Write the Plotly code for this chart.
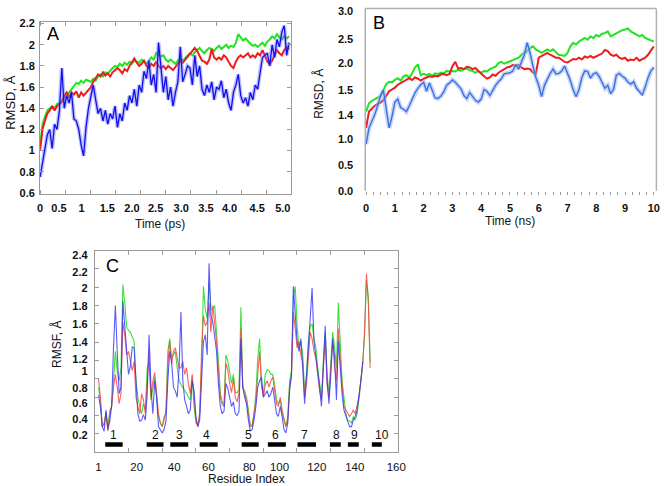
import plotly.graph_objects as go

W, H = 669, 486

# ---------------- Panel A : RMSD vs time (ps) ----------------
a_time = [round(0.05 * i, 2) for i in range(104)]
a_green = [1.05,1.25,1.32,1.38,1.40,1.42,1.40,1.44,1.45,1.47,
           1.50,1.52,1.55,1.58,1.62,1.64,1.63,1.66,1.64,1.67,
           1.66,1.65,1.68,1.66,1.70,1.72,1.70,1.74,1.73,1.76,
           1.78,1.80,1.79,1.82,1.80,1.83,1.81,1.84,1.82,1.85,
           1.84,1.83,1.86,1.84,1.82,1.85,1.88,1.86,1.92,1.90,
           1.89,1.90,1.86,1.84,1.86,1.84,1.82,1.85,1.87,1.85,
           1.88,1.90,1.92,1.90,1.93,1.95,1.97,1.94,1.92,1.95,
           1.97,1.96,1.94,1.97,1.99,1.96,1.98,2.00,1.97,1.99,
           1.98,2.02,2.10,2.07,2.04,2.06,2.03,2.01,1.99,2.00,
           1.98,2.00,2.02,1.99,2.03,2.05,2.08,2.06,2.10,2.07,
           2.05,2.08,2.06,2.08]
a_red = [1.00,1.20,1.28,1.35,1.38,1.42,1.38,1.42,1.44,1.46,
         1.52,1.55,1.50,1.55,1.53,1.56,1.50,1.55,1.52,1.55,
         1.58,1.60,1.65,1.68,1.72,1.70,1.74,1.71,1.73,1.70,
         1.74,1.76,1.78,1.76,1.73,1.77,1.75,1.80,1.84,1.87,
         1.83,1.80,1.82,1.85,1.80,1.78,1.82,1.80,1.84,1.80,
         1.78,1.80,1.77,1.80,1.78,1.76,1.79,1.82,1.85,1.83,
         1.86,1.88,1.92,1.95,1.97,1.94,1.90,1.85,1.84,1.82,
         1.86,1.96,1.88,1.86,1.88,1.86,1.90,1.88,1.84,1.80,
         1.78,1.84,1.88,1.90,1.88,1.90,1.92,1.88,1.90,1.88,
         1.92,1.90,1.95,1.90,1.84,1.82,1.85,1.90,1.95,1.92,
         1.90,1.95,1.98,1.96]
a_blue = [0.75,0.88,0.98,1.15,1.20,1.02,1.25,1.20,1.38,1.78,
          1.40,1.52,1.45,1.55,1.30,1.28,1.20,1.05,0.95,1.22,
          1.40,1.52,1.62,1.48,1.35,1.40,1.28,1.38,1.25,1.35,
          1.30,1.42,1.22,1.35,1.28,1.45,1.38,1.52,1.45,1.58,
          1.42,1.62,1.55,1.75,1.68,1.85,1.62,1.72,1.55,2.02,
          1.80,1.55,1.70,1.48,1.60,1.42,1.55,1.65,1.98,1.65,
          1.72,1.80,1.78,1.62,1.90,1.70,1.80,1.58,1.52,1.62,
          1.55,1.65,1.48,1.60,1.58,1.66,1.50,1.58,1.45,1.38,
          1.55,1.62,1.72,1.52,1.45,1.50,1.42,1.55,1.48,1.62,
          1.58,1.75,1.88,1.90,1.92,1.80,2.00,1.88,2.05,1.98,
          2.12,2.18,1.90,2.02]
a_xtick_pos = [0, 0.39, 0.86, 1.39, 1.90, 2.39, 2.92, 3.43, 3.92, 4.49, 5.02]
a_xtick_txt = ["0", "0.5", "1", "1.5", "2.0", "2.5", "3.0", "3.5", "4.0", "4.5", "5.0"]
a_ytick_pos = [0.6, 0.8, 1.0, 1.2, 1.4, 1.6, 1.8, 2.0, 2.2]
a_ytick_txt = ["0.6", "0.8", "1", "1.2", "1.4", "1.6", "1.8", "2", "2.2"]

# ---------------- Panel B : RMSD vs time (ns) ----------------
b_time = [round(0.1 * i, 1) for i in range(101)]
b_green = [1.32,1.46,1.50,1.53,1.55,1.58,1.68,1.78,1.82,1.81,
           1.85,1.88,1.84,1.91,1.93,1.89,1.96,2.06,2.11,1.93,
           1.95,1.93,1.95,1.92,1.96,1.95,1.97,1.96,2.00,1.99,
           2.00,1.99,2.02,2.00,2.03,2.04,2.01,2.00,1.97,2.00,
           1.97,2.00,1.99,2.03,2.05,2.07,2.13,2.15,2.12,2.14,
           2.15,2.17,2.19,2.22,2.27,2.30,2.33,2.38,2.41,2.36,
           2.33,2.30,2.33,2.36,2.33,2.36,2.31,2.27,2.26,2.25,
           2.30,2.41,2.47,2.44,2.49,2.52,2.55,2.52,2.575,2.55,
           2.60,2.575,2.62,2.63,2.66,2.575,2.60,2.63,2.66,2.68,
           2.69,2.71,2.66,2.63,2.60,2.575,2.60,2.55,2.53,2.51,
           2.49]
b_red = [1.05,1.32,1.37,1.42,1.45,1.47,1.51,1.58,1.66,1.69,
         1.72,1.77,1.80,1.82,1.85,1.88,1.85,1.89,1.87,1.84,
         1.87,1.89,1.91,1.90,1.92,1.91,1.94,1.95,1.93,1.95,
         2.08,2.15,2.04,2.05,2.03,2.07,2.06,2.03,2.05,2.00,
         1.95,1.91,1.87,1.89,1.94,1.92,1.97,2.00,2.03,2.06,
         2.07,2.10,2.08,2.10,2.06,2.03,2.04,2.03,1.97,1.95,
         2.22,2.25,2.27,2.30,2.27,2.25,2.22,2.22,2.19,2.15,
         2.14,2.17,2.20,2.19,2.22,2.19,2.24,2.22,2.25,2.22,
         2.24,2.26,2.29,2.35,2.33,2.27,2.25,2.27,2.22,2.20,
         2.22,2.17,2.19,2.18,2.22,2.17,2.19,2.22,2.27,2.35,
         2.41]
b_blue = [0.78,1.05,1.16,1.27,1.42,1.58,1.68,1.32,1.05,1.24,
          1.48,1.53,1.39,1.36,1.32,1.42,1.53,1.64,1.71,1.77,
          1.81,1.66,1.80,1.69,1.55,1.54,1.58,1.65,1.76,1.80,
          1.85,1.81,1.75,1.70,1.59,1.54,1.64,1.57,1.51,1.48,
          1.53,1.69,1.66,1.59,1.68,1.76,1.82,1.87,1.95,1.96,
          1.97,2.00,2.11,2.03,2.14,2.27,2.47,2.30,2.08,1.89,
          1.76,1.57,1.76,1.87,1.96,2.03,1.95,1.96,2.00,2.08,
          1.97,1.84,1.68,1.57,1.69,1.89,2.00,1.99,1.88,1.95,
          1.97,1.91,1.81,1.71,1.76,1.62,1.69,1.93,1.96,1.91,
          1.88,1.81,1.78,1.82,1.71,1.66,1.60,1.73,1.89,2.00,
          2.06]
b_ytick_pos = [0.0, 0.42, 0.857, 1.266, 1.675, 2.126, 2.535, 3.0]
b_ytick_txt = ["0.0", "0.5", "1.0", "1.4", "1.5", "2.0", "2.5", "3.0"]
b_xtick_pos = [0, 1, 2, 3, 4, 5, 6, 7, 8, 9, 10]

# ---------------- Panel C : RMSF per residue ----------------
c_res_rg = list(range(1, 147))
c_res_b = list(range(1, 143))
c_blue = [0.82,0.70,0.48,0.43,0.66,0.45,0.54,0.70,1.34,1.80,
          1.30,0.84,0.91,1.85,1.58,1.30,1.05,1.14,1.35,1.34,
          0.98,0.62,0.54,0.55,0.61,0.55,0.84,1.48,0.91,0.62,
          0.98,0.80,0.48,0.45,0.41,0.45,0.54,0.98,1.30,1.19,
          0.91,0.87,0.80,1.12,1.73,0.98,0.77,0.70,0.62,0.66,
          0.98,0.87,0.59,0.48,0.55,0.98,1.41,1.48,1.26,2.26,
          1.69,1.62,1.44,1.30,0.95,0.70,0.62,0.65,0.95,0.90,
          0.80,0.70,0.75,0.62,0.60,0.65,1.44,0.91,0.80,0.73,
          0.55,0.43,0.45,0.55,0.70,0.91,0.98,1.02,0.80,0.84,
          0.87,0.80,0.84,0.91,0.77,0.62,0.59,0.70,0.59,0.45,
          0.41,0.52,0.87,1.05,2.01,1.66,1.41,1.30,1.44,1.12,
          0.73,1.02,1.34,1.73,1.99,1.41,1.26,1.09,0.91,0.70,
          1.12,1.58,0.98,0.73,1.05,1.44,1.23,0.77,1.41,1.12,
          0.84,0.66,0.59,0.54,0.48,0.48,0.55,0.59,0.66,0.80,
          0.98,1.19]
c_red = [1.00,0.80,0.48,0.50,0.64,0.43,0.61,0.70,0.91,1.05,
         0.91,0.73,0.84,1.62,1.48,1.26,1.30,1.19,1.09,1.19,
         0.80,0.70,0.62,0.84,0.77,0.62,0.94,1.30,0.80,0.98,
         1.07,0.84,0.62,0.52,0.48,0.55,0.66,1.16,1.41,1.16,
         1.30,1.34,1.23,1.12,1.12,1.19,1.05,1.12,0.94,0.84,
         1.05,0.80,0.55,0.48,0.62,1.30,1.69,1.58,1.62,1.83,
         1.51,1.80,1.62,1.41,1.10,0.80,0.72,0.70,1.17,1.10,
         0.95,0.85,1.00,0.80,0.75,0.85,1.55,0.91,0.84,0.77,
         0.62,0.50,0.48,0.62,0.77,1.05,1.30,0.94,0.80,0.94,
         0.98,0.91,0.98,1.02,0.87,0.73,0.70,0.80,0.66,0.55,
         0.48,0.55,0.91,1.02,1.73,1.55,1.34,1.41,1.26,1.19,
         0.80,0.94,1.26,1.51,1.44,1.30,1.23,1.05,0.87,0.77,
         1.05,1.44,0.94,0.80,1.12,1.41,1.12,0.98,1.55,1.19,
         0.94,0.70,0.66,0.62,0.59,0.62,0.66,0.62,0.73,0.80,
         0.98,1.16,1.51,2.15,1.83,1.12]
c_green = [0.91,0.77,0.48,0.52,0.62,0.46,0.66,0.70,0.98,1.30,
           1.09,0.98,1.12,2.03,1.83,1.57,1.53,1.51,1.46,1.41,
           0.98,0.80,0.70,0.62,0.73,0.66,1.12,1.19,0.77,0.91,
           1.02,0.80,0.59,0.52,0.48,0.59,0.62,1.30,1.44,1.23,
           1.26,1.30,1.12,0.98,0.94,0.91,0.87,0.84,0.80,0.77,
           1.02,0.70,0.52,0.50,0.62,1.12,2.01,1.76,1.66,2.05,
           1.76,1.76,1.80,1.55,1.20,0.85,0.75,0.72,1.26,1.20,
           1.05,0.95,1.05,0.85,0.85,0.88,1.78,0.91,0.87,0.80,
           0.66,0.48,0.50,0.62,0.84,1.23,1.44,0.91,0.84,1.05,
           1.10,1.09,1.05,1.05,0.94,0.77,0.73,0.77,0.62,0.54,
           0.48,0.59,0.98,1.09,1.90,2.01,1.58,1.34,1.41,1.26,
           0.87,1.05,1.41,1.58,1.60,1.44,1.34,1.12,0.98,0.80,
           1.19,1.51,1.05,0.84,1.19,1.51,1.34,1.12,1.83,1.41,
           0.98,0.80,0.62,0.55,0.54,0.52,0.59,0.55,0.62,0.77,
           0.98,1.16,1.48,2.08,1.90,1.18]
helix_labels = ["1", "2", "3", "4", "5", "6", "7", "8", "9", "10"]
helix_start = [4.6, 26.7, 39.3, 55.0, 77.4, 91.4, 107.2, 124.5, 134.1, 146.9]
helix_end = [13.9, 35.7, 48.9, 64.6, 86.5, 101.0, 117.1, 130.3, 139.9, 152.2]
helix_label_x = [9.2, 31.4, 44.2, 58.5, 81.3, 95.3, 111.0, 128.1, 137.6, 152.1]
c_xtick_pos = [0.94, 21.4, 41.4, 59.7, 81.5, 97.6, 117.5, 137.8, 159.9]
c_xtick_txt = ["1", "20", "40", "60", "80", "100", "120", "140", "160"]
c_ytick_pos = [0.382, 0.563, 0.734, 0.904, 1.081, 1.219, 1.398, 1.601, 1.797, 1.993, 2.160, 2.348]
c_ytick_txt = ["0.2", "0.4", "0.6", "0.8", "1", "1.2", "1.4", "1.6", "1.8", "2", "2.2", "2.4"]

# ---------------- styling ----------------
GREEN = "#1fe41f"
RED = "#ee1c1c"
BLUE_A = "#1010e8"
BLUE_A_HALO = "rgba(110,110,255,0.45)"
BLUE_B = "#3f6fe6"
BLUE_B_HALO = "rgba(150,180,240,0.55)"
FRAME = "#9a9a9a"
FONT = "Liberation Sans"


def px_dom_x(a, b):
    return [a / W, b / W]


def px_dom_y(top, bottom):
    return [1 - bottom / H, 1 - top / H]


fig = go.Figure()

# Panel A traces
fig.add_trace(go.Scatter(x=a_time, y=a_green, mode="lines", line=dict(color=GREEN, width=2),
                         xaxis="x", yaxis="y", showlegend=False))
fig.add_trace(go.Scatter(x=a_time, y=a_red, mode="lines", line=dict(color=RED, width=2),
                         xaxis="x", yaxis="y", showlegend=False))
fig.add_trace(go.Scatter(x=a_time, y=a_blue, mode="lines", line=dict(color=BLUE_A_HALO, width=4),
                         xaxis="x", yaxis="y", showlegend=False))
fig.add_trace(go.Scatter(x=a_time, y=a_blue, mode="lines", line=dict(color=BLUE_A, width=1.3),
                         xaxis="x", yaxis="y", showlegend=False))

# Panel B traces
fig.add_trace(go.Scatter(x=b_time, y=b_green, mode="lines", line=dict(color=GREEN, width=2),
                         xaxis="x2", yaxis="y2", showlegend=False))
fig.add_trace(go.Scatter(x=b_time, y=b_red, mode="lines", line=dict(color=RED, width=2),
                         xaxis="x2", yaxis="y2", showlegend=False))
fig.add_trace(go.Scatter(x=b_time, y=b_blue, mode="lines", line=dict(color=BLUE_B_HALO, width=4.5),
                         xaxis="x2", yaxis="y2", showlegend=False))
fig.add_trace(go.Scatter(x=b_time, y=b_blue, mode="lines", line=dict(color=BLUE_B, width=1.4),
                         xaxis="x2", yaxis="y2", showlegend=False))

# Panel C traces
fig.add_trace(go.Scatter(x=c_res_rg, y=c_green, mode="lines", line=dict(color="rgba(40,220,40,0.9)", width=1.1),
                         xaxis="x3", yaxis="y3", showlegend=False))
fig.add_trace(go.Scatter(x=c_res_rg, y=c_red, mode="lines", line=dict(color="rgba(250,70,70,0.85)", width=1.1),
                         xaxis="x3", yaxis="y3", showlegend=False))
fig.add_trace(go.Scatter(x=c_res_b, y=c_blue, mode="lines", line=dict(color="rgba(50,50,250,0.8)", width=1.1),
                         xaxis="x3", yaxis="y3", showlegend=False))
for s, e in zip(helix_start, helix_end):
    fig.add_trace(go.Scatter(x=[s, e], y=[0.285, 0.285], mode="lines",
                             line=dict(color="black", width=4.5),
                             xaxis="x3", yaxis="y3", showlegend=False))

tickfont = dict(family=FONT, size=11, color="#111", weight="bold")

fig.update_layout(
    width=W, height=H, margin=dict(l=0, r=0, t=0, b=0),
    paper_bgcolor="white", plot_bgcolor="white",
    font=dict(family=FONT),
    xaxis=dict(domain=px_dom_x(37.7, 293.3), range=[0, 5.2], anchor="y",
               tickmode="array", tickvals=a_xtick_pos, ticktext=a_xtick_txt, ticks="",
               minor=dict(tickmode="linear", tick0=0, dtick=0.52, ticks="inside", ticklen=4, tickcolor=FRAME),
               showline=True, linecolor=FRAME, linewidth=1, mirror="allticks",
               showgrid=False, zeroline=False, tickfont=tickfont, ticklabelstandoff=4),
    yaxis=dict(domain=px_dom_y(18, 193.5), range=[0.595, 2.2185], anchor="x",
               tickmode="array", tickvals=a_ytick_pos, ticktext=a_ytick_txt,
               ticks="inside", ticklen=4, tickcolor=FRAME,
               showline=True, linecolor=FRAME, linewidth=1, mirror="allticks",
               showgrid=False, zeroline=False, tickfont=tickfont, ticklabelstandoff=2),
    xaxis2=dict(domain=px_dom_x(368.3, 664.3), range=[-0.03, 10.09], anchor="y2",
                tickmode="array", tickvals=b_xtick_pos, ticks="outside", ticklen=3, tickcolor=FRAME,
                minor=dict(tickmode="linear", tick0=0, dtick=0.25, ticks="outside", ticklen=3, tickcolor=FRAME),
                showline=False, showgrid=False, zeroline=False, tickfont=tickfont, ticklabelstandoff=4,
                ticklabeloverflow="allow"),
    yaxis2=dict(domain=px_dom_y(4.7, 190.7), range=[0, 3.04], anchor="x2",
                tickmode="array", tickvals=b_ytick_pos, ticktext=b_ytick_txt, ticks="",
                showline=False, showgrid=False, zeroline=False, tickfont=tickfont, ticklabelstandoff=11),
    xaxis3=dict(domain=px_dom_x(93.3, 401.7), range=[-1.0, 160.9], anchor="y3",
                tickmode="array", tickvals=c_xtick_pos, ticktext=c_xtick_txt, ticks="",
                minor=dict(tickmode="linear", tick0=-1.0, dtick=17.99, ticks="inside", ticklen=4, tickcolor=FRAME),
                showline=True, linecolor=FRAME, linewidth=1, mirror="allticks",
                showgrid=False, zeroline=False,
                tickfont=dict(family=FONT, size=11.5, color="#111"), ticklabelstandoff=4),
    yaxis3=dict(domain=px_dom_y(251.7, 457.7), range=[0.2, 2.40], anchor="x3",
                tickmode="array", tickvals=c_ytick_pos, ticktext=c_ytick_txt, ticks="",
                minor=dict(tickmode="linear", tick0=0.2, dtick=0.2, ticks="inside", ticklen=4, tickcolor=FRAME),
                showline=True, linecolor=FRAME, linewidth=1, mirror="allticks",
                showgrid=False, zeroline=False, tickfont=tickfont, ticklabelstandoff=4),
)

# Frame of panel B: left, top, right only
for x0, y0, x1, y1 in [(0, 0, 0, 1), (0, 1, 1, 1), (1, 0, 1, 1)]:
    fig.add_shape(type="line", xref="x2 domain", yref="y2 domain", x0=x0, y0=y0, x1=x1, y1=y1,
                  line=dict(color="#b0b0b0", width=1.5))

ann = []
# panel letters
ann.append(dict(text="A", x=51 / W, y=1 - 31 / H, xref="paper", yref="paper", showarrow=False,
                font=dict(family=FONT, size=18, color="black"), xanchor="center", yanchor="middle"))
ann.append(dict(text="B", x=382 / W, y=1 - 19 / H, xref="paper", yref="paper", showarrow=False,
                font=dict(family=FONT, size=18, color="black"), xanchor="center", yanchor="middle"))
ann.append(dict(text="C", x=111.7 / W, y=1 - 267.5 / H, xref="paper", yref="paper", showarrow=False,
                font=dict(family=FONT, size=18, color="black"), xanchor="center", yanchor="middle"))
# axis titles
ann.append(dict(text="Time (ps)", x=160 / W, y=1 - 225 / H, xref="paper", yref="paper", showarrow=False,
                font=dict(family=FONT, size=12, color="#111"), xanchor="center", yanchor="middle"))
ann.append(dict(text="Time (ns)", x=515 / W, y=1 - 222 / H, xref="paper", yref="paper", showarrow=False,
                font=dict(family=FONT, size=12, color="#111"), xanchor="center", yanchor="middle"))
ann.append(dict(text="Residue Index", x=248 / W, y=0, xref="paper", yref="paper", showarrow=False,
                font=dict(family=FONT, size=12, color="#111"), xanchor="center", yanchor="bottom",
                yshift=-8))
ann.append(dict(text="RMSD, Å", x=8 / W, y=1 - 100 / H, xref="paper", yref="paper", showarrow=False,
                textangle=-90, font=dict(family=FONT, size=13, color="#111"), xanchor="center", yanchor="middle"))
ann.append(dict(text="RMSD, Å", x=320 / W, y=1 - 92 / H, xref="paper", yref="paper", showarrow=False,
                textangle=-90, font=dict(family=FONT, size=12, color="#111"), xanchor="center", yanchor="middle"))
ann.append(dict(text="RMSF, Å", x=55 / W, y=1 - 348 / H, xref="paper", yref="paper", showarrow=False,
                textangle=-90, font=dict(family=FONT, size=12, color="#111"), xanchor="center", yanchor="middle"))
# helix numbers
for lab, xv in zip(helix_labels, helix_label_x):
    ann.append(dict(text=lab, x=xv, y=0.39, xref="x3", yref="y3", showarrow=False,
                    font=dict(family=FONT, size=12, color="#111"), xanchor="center", yanchor="middle"))
fig.update_layout(annotations=ann)

fig.write_html("out.html", config={"displayModeBar": False},
               post_script="document.body.style.margin='0px';document.body.style.overflow='hidden';")
